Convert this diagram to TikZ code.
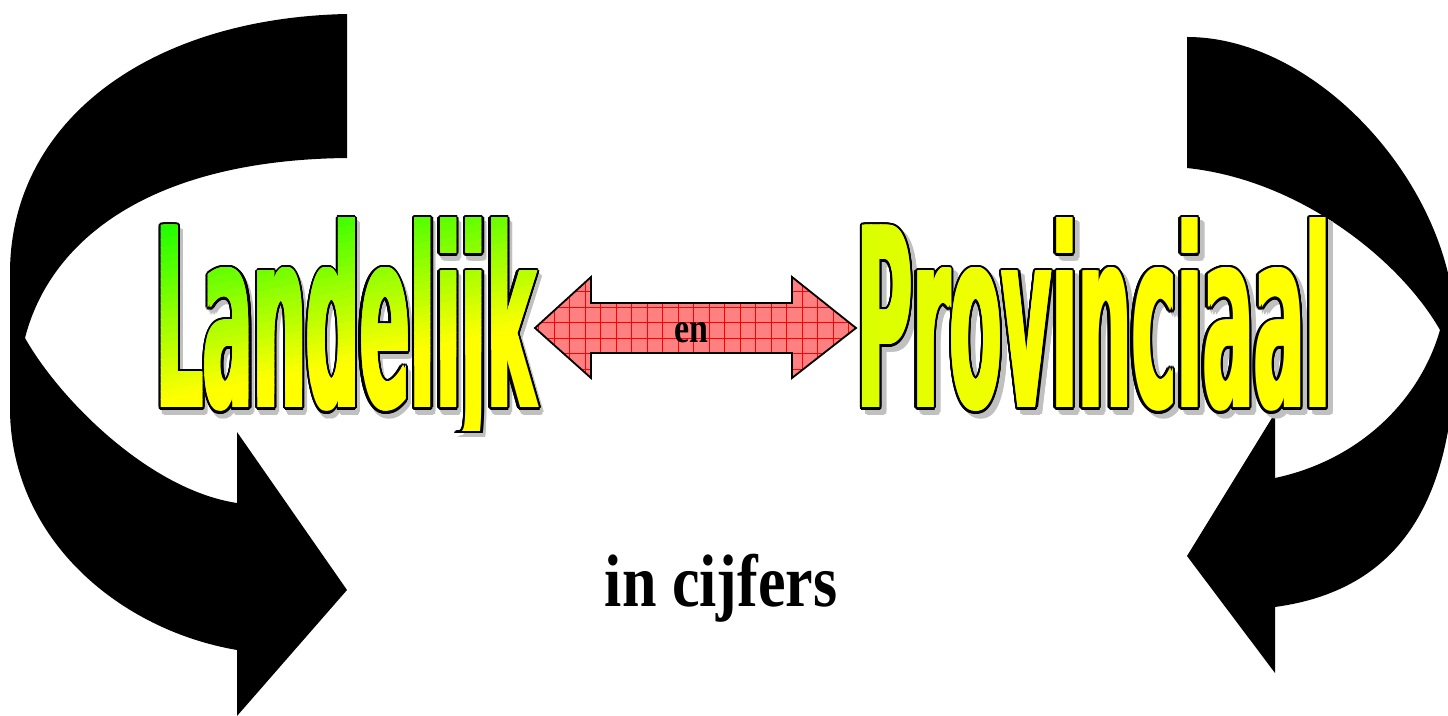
\documentclass[tikz,border=0pt]{standalone}
\usepackage{fontspec}
\usepackage{graphicx}
\newfontfamily\impactish{DejaVu Sans}
\newfontfamily\serifb{Liberation Serif}
\definecolor{arrowfill}{HTML}{FF8080}
\definecolor{shadowgray}{HTML}{C0C0C0}
\definecolor{lgreen}{RGB}{0,255,0}
\definecolor{lyellow}{RGB}{255,255,0}
\newcommand\LandText{\resizebox{190pt}{\height}{\impactish\bfseries\fontsize{125}{125}\selectfont Landelijk}}
\newcommand\ProvText{\resizebox{237pt}{\height}{\impactish\bfseries\fontsize{125}{125}\selectfont Provinciaal}}
\begin{document}
\begin{tikzpicture}[x=0.5pt,y=-0.5pt,
  wordnode/.style={anchor=base west,inner sep=0pt,outer sep=0pt},
  bigarrow/.style={fill=black,draw=none},
  dblarrow/.style={draw=black,line width=0.9pt,line join=miter},
  gridline/.style={red,line width=0.35pt}]
\fill[white] (0,0) rectangle (1448,716);
\path[use as bounding box] (0,0) rectangle (1448,716);
\clip (0,0) rectangle (1448,716);

% left curved arrow
\fill[bigarrow] (347,14) .. controls (150,18) and (12,120) .. (10,270) -- (10,411)
  .. controls (12,540) and (120,630) .. (237,650) -- (237,716) -- (347,590) -- (237,432) -- (237,503)
  .. controls (150,490) and (60,400) .. (25,338)
  .. controls (50,240) and (150,160) .. (347,158) -- cycle;

% right curved arrow
\fill[bigarrow] (1187,37) .. controls (1320,37) and (1455,190) .. (1455,330)
  .. controls (1458,500) and (1400,590) .. (1275,607) -- (1275,673) -- (1187,556) -- (1275,413) -- (1275,478)
  .. controls (1360,460) and (1420,400) .. (1440,330)
  .. controls (1400,260) and (1300,180) .. (1187,168) -- cycle;

% double arrow with grid
\begin{scope}
\clip (535,328) -- (591,277) -- (591,303) -- (792,303) -- (792,277) -- (856,328) -- (792,378) -- (792,353) -- (591,353) -- (591,378) -- cycle;
\fill[arrowfill] (530,270) rectangle (860,385);
\foreach \gx in {538.5,554,...,858} \draw[gridline] (\gx,270) -- (\gx,385);
\foreach \gy in {276,291.5,...,386} \draw[gridline] (530,\gy) -- (860,\gy);
\end{scope}
\draw[dblarrow] (535,328) -- (591,277) -- (591,303) -- (792,303) -- (792,277) -- (856,328) -- (792,378) -- (792,353) -- (591,353) -- (591,378) -- cycle;
\node[inner sep=0pt] (en) at (691,333) {\scalebox{1}[1.25]{\serifb\bfseries\fontsize{17}{17}\selectfont en}};

% Landelijk: shadow, outline, gradient fill (horizontally thickened)
\begin{scope}
\clip (100,150) rectangle (600,437);
\foreach \dx in {-1.6,1.6}
\foreach \a in {0,45,...,315}
  \node[wordnode,text=shadowgray] at ([shift={(\a:2.2)}]{159+\dx},413) {\LandText};
\end{scope}
\begin{scope}
\clip (100,150) rectangle (600,433);
\foreach \dx in {-1.6,0,1.6}
\foreach \a in {0,22.5,...,340}
  \node[wordnode,text=black] at ([shift={(\a:2.3)}]{156+\dx},408) {\LandText};
\end{scope}
\begin{scope}
\clip (100,150) rectangle (600,430.5);
\foreach \dx in {-1.6,0,1.6}
  \node[wordnode,text=lyellow] at ({156+\dx},408) {\LandText};
\node[wordnode,text=lyellow] (landelijk) at (156,408) {\LandText};
\foreach \i in {0,...,25} {
  \pgfmathsetmacro\sa{-12+8*\i}
  \pgfmathsetmacro\sb{\sa+9}
  \pgfmathtruncatemacro\pc{max(0,min(100,8+(\sa+4)/180*92))}
  \begin{scope}
    \clip (140,{223+\sa}) -- (560,{139+\sa}) -- (560,{139+\sb}) -- (140,{223+\sb}) -- cycle;
    \foreach \dx in {-1.6,0,1.6}
      \node[wordnode,text=lyellow!\pc!lgreen] at ({156+\dx},408) {\LandText};
  \end{scope}
}
\end{scope}

% Provinciaal: shadow, outline, gradient fill (horizontally thickened)
\foreach \dx in {-1.6,1.6}
\foreach \a in {0,45,...,315}
  \node[wordnode,text=shadowgray] at ([shift={(\a:2.2)}]{862+\dx},413) {\ProvText};
\foreach \dx in {-1.6,0,1.6}
\foreach \a in {0,22.5,...,340}
  \node[wordnode,text=black] at ([shift={(\a:2.3)}]{857+\dx},408) {\ProvText};
\foreach \dx in {-1.6,1.6}
  \node[wordnode,text=lyellow] at ({857+\dx},408) {\ProvText};
\node[wordnode,text=lyellow] (provinciaal) at (857,408) {\ProvText};
\foreach \i in {0,...,22} {
  \pgfmathsetmacro\xa{840+10*\i}
  \pgfmathtruncatemacro\pc{max(0,min(100,85+(\xa-850)/200*15))}
  \begin{scope}
    \clip (\xa,200) rectangle ({\xa+11},450);
    \foreach \dx in {-1.6,0,1.6}
      \node[wordnode,text=lyellow!\pc!lgreen] at ({857+\dx},408) {\ProvText};
  \end{scope}
}

\node[anchor=base,inner sep=0pt] (cijfers) at (721,607) {\scalebox{1}[1.2]{\serifb\bfseries\fontsize{31}{31}\selectfont in cijfers}};
\end{tikzpicture}
\end{document}
